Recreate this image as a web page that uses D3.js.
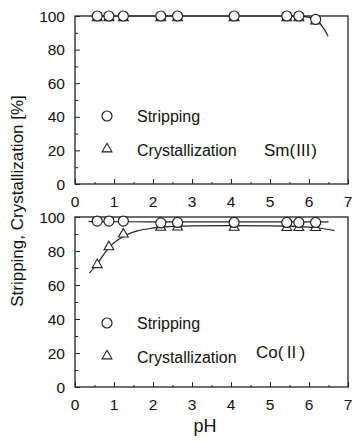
<!DOCTYPE html>
<html>
<head>
<meta charset="utf-8">
<script src="https://cdn.jsdelivr.net/npm/d3@7"></script>
<style>
  body { margin: 0; background: #fff; }
  text { font-family: 'Liberation Sans', Arial, sans-serif; fill: #111; }
</style>
</head>
<body>
<div id="visualization"></div>
<script>
// DATA
const phPoints = [0.57, 0.87, 1.24, 2.2, 2.63, 4.08, 5.43, 5.74, 6.17]

const smStripping = [100, 100, 100, 100, 100, 100, 100, 100, 98]
const smCrystal = [99.5, 99.5, 99.5, 99.5, 99.5, 99.5, 99.5, 99.5, 97.5]
const smFitX = [0.4, 2, 4, 5.6, 5.9, 6.1, 6.25, 6.38, 6.49]
const smFitY = [100, 100, 100, 100, 99.6, 98.4, 96.2, 92.5, 88]

const coStripping = [97.6, 97.6, 97.6, 96.5, 96.8, 96.8, 96.8, 96.8, 96.8]
const coCrystal = [72.5, 83, 90.5, 94.5, 94.6, 94.5, 94.3, 94.3, 94.3]
const coStripFitX = [0.35, 1.5, 3, 4.5, 6, 6.5]
const coStripFitY = [97.3, 97.2, 97.1, 97.1, 97.1, 97.1]
const coCrystFitX = [0.37, 0.57, 0.87, 1.24, 1.6, 2.0, 2.5, 3, 4, 5, 5.8, 6.3, 6.65]
const coCrystFitY = [67, 72.5, 82, 88.5, 91.8, 93.5, 94.4, 94.8, 94.9, 94.8, 94.3, 93.4, 92]

const xTicks = [0, 1, 2, 3, 4, 5, 6, 7]
const yTicks = [0, 20, 40, 60, 80, 100]

//BOX
const w = 355
const h = 442
const left = 75
const right = 348

const svg = d3.select('#visualization')
  .append('svg')
  .attr('width', w)
  .attr('height', h)

const xScale = d3.scaleLinear()
  .domain([0, 7])
  .range([left, right])

function drawPanel(top, bottom, strip, cryst, fits, metal, legendY) {
  const yScale = d3.scaleLinear()
    .domain([0, 100])
    .range([bottom, top])

  const g = svg.append('g')

  // frame
  g.append('rect')
    .attr('x', left)
    .attr('y', top)
    .attr('width', right - left)
    .attr('height', bottom - top)
    .attr('fill', 'none')
    .attr('stroke', '#222')
    .attr('stroke-width', 1.3)

  // y ticks (inward)
  g.append('g')
    .attr('transform', `translate(${left},0)`)
    .call(d3.axisRight(yScale).tickValues(d3.range(10, 100, 20)).tickSize(3).tickFormat(''))
    .call(a => a.select('.domain').remove())
  g.append('g')
    .attr('transform', `translate(${left},0)`)
    .call(d3.axisRight(yScale).tickValues(yTicks).tickSize(5).tickFormat(''))
    .call(a => a.select('.domain').remove())
  yTicks.forEach(t => {
    g.append('text')
      .attr('x', left - 10)
      .attr('y', yScale(t) + 5.5)
      .attr('text-anchor', 'end')
      .attr('font-size', 15.5)
      .text(t)
  })

  // x ticks (inward)
  g.append('g')
    .attr('transform', `translate(0,${bottom})`)
    .call(d3.axisTop(xScale).tickValues(xTicks).tickSize(5).tickFormat(''))
    .call(a => a.select('.domain').remove())
  g.append('g')
    .attr('transform', `translate(0,${bottom})`)
    .call(d3.axisTop(xScale).tickValues(d3.range(0.5, 7, 1)).tickSize(2).tickFormat(''))
    .call(a => a.select('.domain').remove())
  xTicks.forEach(t => {
    g.append('text')
      .attr('x', xScale(t))
      .attr('y', bottom + 23)
      .attr('text-anchor', 'middle')
      .attr('font-size', 15.5)
      .text(t)
  })
  g.selectAll('.tick line').attr('stroke', '#222')

  // fitted curves
  const line = d3.line()
    .x(d => xScale(d[0]))
    .y(d => yScale(d[1]))
    .curve(d3.curveMonotoneX)
  fits.forEach(f => {
    g.append('path')
      .datum(d3.zip(f[0], f[1]))
      .attr('d', line)
      .attr('fill', 'none')
      .attr('stroke', '#222')
      .attr('stroke-width', 1.2)
  })

  const tri = d3.symbol().type(d3.symbolTriangle).size(42)

  // triangles
  g.selectAll('.tri')
    .data(d3.zip(phPoints, cryst))
    .enter()
    .append('path')
    .attr('d', tri)
    .attr('transform', d => `translate(${xScale(d[0])},${yScale(d[1]) + 1})`)
    .attr('fill', '#fff')
    .attr('stroke', '#222')
    .attr('stroke-width', 1.1)

  // circles
  g.selectAll('.circ')
    .data(d3.zip(phPoints, strip))
    .enter()
    .append('circle')
    .attr('cx', d => xScale(d[0]))
    .attr('cy', d => yScale(d[1]))
    .attr('r', 5)
    .attr('fill', '#fff')
    .attr('stroke', '#222')
    .attr('stroke-width', 1.2)

  // legend
  g.append('circle')
    .attr('cx', 107)
    .attr('cy', legendY)
    .attr('r', 5)
    .attr('fill', 'none')
    .attr('stroke', '#222')
    .attr('stroke-width', 1.2)
  g.append('text')
    .attr('x', 137)
    .attr('y', legendY + 6)
    .attr('font-size', 16)
    .text('Stripping')
  g.append('path')
    .attr('d', tri)
    .attr('transform', `translate(107,${legendY + 33})`)
    .attr('fill', 'none')
    .attr('stroke', '#222')
    .attr('stroke-width', 1.1)
  g.append('text')
    .attr('x', 137)
    .attr('y', legendY + 40)
    .attr('font-size', 16)
    .text('Crystallization')
  const mt = g.append('text')
    .attr('x', metal[1])
    .attr('y', legendY + metal[2])
    .attr('font-size', 17)
  mt.append('tspan').text(metal[0][0] + '(')
  mt.append('tspan')
    .attr('font-family', "'Noto Sans CJK JP'")
    .attr('font-size', 16)
    .text(metal[0][1])
  mt.append('tspan').text(')')
}

drawPanel(16, 184, smStripping, smCrystal, [[smFitX, smFitY]], [['Sm', 'Ⅲ'], 264, 40], 116)
drawPanel(217, 387, coStripping, coCrystal, [[coStripFitX, coStripFitY], [coCrystFitX, coCrystFitY]], [['Co', 'Ⅱ'], 256, 35], 323)

//y axis
svg.append('text')
  .text('Stripping, Crystallization [%]')
  .attr('font-size', 17)
  .attr('text-anchor', 'middle')
  .attr('transform', `translate(23,201) rotate(-90)`)

//x axis
svg.append('text')
  .text('pH')
  .attr('font-size', 18)
  .attr('text-anchor', 'middle')
  .attr('x', 205)
  .attr('y', 432)
</script>
</body>
</html>
